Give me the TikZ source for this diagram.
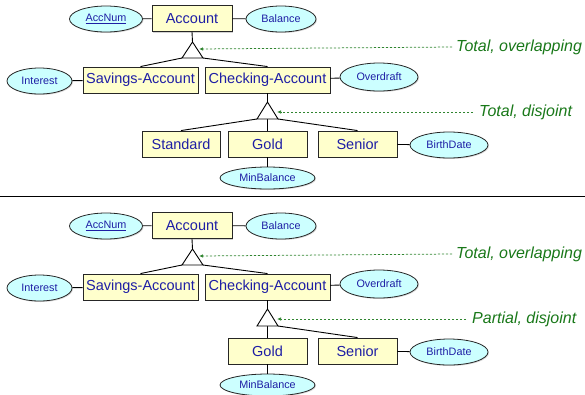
\documentclass[tikz,border=0pt]{standalone}
\usepackage{fontspec}
\setmainfont{Liberation Sans}
\usetikzlibrary{shapes.geometric,shadows,arrows.meta}

\definecolor{entfill}{RGB}{255,255,204}
\definecolor{attfill}{RGB}{204,255,255}
\definecolor{txtblue}{RGB}{30,30,165}
\definecolor{notegreen}{RGB}{25,120,25}

\tikzset{
  ent/.style={draw=black!85, line width=0.9pt, fill=entfill, text=txtblue,
    minimum height=26pt, inner sep=0pt, font=\fontsize{14.5}{16}\selectfont,
    drop shadow={shadow xshift=1.2pt, shadow yshift=-1.2pt, opacity=0.35}},
  att/.style={ellipse, draw=black!85, line width=0.8pt, fill=attfill, text=txtblue,
    minimum height=26pt, inner sep=0pt, font=\fontsize{10.8}{12}\selectfont,
    drop shadow={shadow xshift=1pt, shadow yshift=-1pt, opacity=0.3}},
  link/.style={draw=black, line width=0.9pt},
  isa/.style={draw=black, line width=0.9pt, fill=white},
  note/.style={text=notegreen, font=\fontsize{16}{18}\selectfont\itshape,
    anchor=west, inner sep=0pt},
  pointer/.style={draw=notegreen!90, line width=0.75pt, dash pattern=on 2.2pt off 1.8pt,
    -{Latex[length=4pt,width=3.5pt]}},
}

\begin{document}
\begin{tikzpicture}[x=1pt,y=-1pt]
\useasboundingbox (0,0) rectangle (585,394);

% ---------------- upper schema: total / overlapping, total / disjoint
\node[ent, minimum width=80pt]  (acc)  at (192,18.5) {Account};
\node[att, minimum width=73pt]  (an)   at (106,19)   {\underline{AccNum}};
\node[att, minimum width=70pt]  (bal)  at (281,19)   {Balance};
\node[ent, minimum width=115pt] (sav)  at (140.5,80) {Savings-Account};
\node[ent, minimum width=125pt] (chk)  at (267.5,80) {Checking-Account};
\node[att, minimum width=65pt]  (int)  at (39.5,81)  {Interest};
\node[att, minimum width=78pt, minimum height=28pt] (ovd) at (379,77) {Overdraft};
\node[ent, minimum width=78pt]  (std)  at (181,144)  {Standard};
\node[ent, minimum width=79pt]  (gold) at (267.5,144) {Gold};
\node[ent, minimum width=79pt]  (sen)  at (357.5,144) {Senior};
\node[att, minimum width=78pt]  (bd)   at (449,145)  {BirthDate};
\node[att, minimum width=95pt, minimum height=22pt] (minb) at (267.5,178) {MinBalance};

% specialisation triangles
\coordinate (ta) at (192.5,42);  \coordinate (tl) at (182,58);  \coordinate (tr) at (203,58);
\coordinate (tp) at (199,49);
\coordinate (ua) at (267.5,102); \coordinate (ul) at (257,119); \coordinate (ur) at (278,119);
\coordinate (ub) at (267.5,119); \coordinate (up) at (277,112);

\draw[link] (an) -- (acc);
\draw[link] (acc) -- (bal);
\draw[link] (int) -- (sav);
\draw[link] (chk) -- (ovd);
\draw[link] (acc.south) -- (ta);
\draw[link] (tl) -- (sav.north);
\draw[link] (tr) -- (chk.north);
\draw[link] (chk.south) -- (ua);
\draw[link] (ul) -- (std.north);
\draw[link] (ub) -- (gold.north);
\draw[link] (ur) -- (sen.north);
\draw[link] (gold) -- (minb);
\draw[link] (sen) -- (bd);
\draw[isa] (ta) -- (tl) -- (tr) -- cycle;
\draw[isa] (ua) -- (ul) -- (ur) -- cycle;

\node[note] (n1) at (456,47)  {Total, overlapping};
\node[note] (n2) at (479,112) {Total, disjoint};
\draw[pointer] ([xshift=-4pt]n1.west) -- (tp);
\draw[pointer] ([xshift=-6pt]n2.west) -- (up);

% separator
\coordinate (sl) at (0,196); \coordinate (sr) at (585,196);
\draw[line width=0.9pt] (sl) -- (sr);

% ---------------- lower schema: total / overlapping, partial / disjoint
\node[ent, minimum width=80pt]  (acc2)  at (192,225.5) {Account};
\node[att, minimum width=73pt]  (an2)   at (106,226)   {\underline{AccNum}};
\node[att, minimum width=70pt]  (bal2)  at (281,226)   {Balance};
\node[ent, minimum width=115pt] (sav2)  at (140.5,287) {Savings-Account};
\node[ent, minimum width=125pt] (chk2)  at (267.5,287) {Checking-Account};
\node[att, minimum width=65pt]  (int2)  at (39.5,288)  {Interest};
\node[att, minimum width=78pt, minimum height=28pt] (ovd2) at (379,284) {Overdraft};
\node[ent, minimum width=79pt]  (gold2) at (267.5,351) {Gold};
\node[ent, minimum width=79pt]  (sen2)  at (357.5,351) {Senior};
\node[att, minimum width=78pt]  (bd2)   at (449,352)   {BirthDate};
\node[att, minimum width=95pt, minimum height=22pt] (minb2) at (267.5,385) {MinBalance};

\coordinate (ta2) at (192.5,249); \coordinate (tl2) at (182,265); \coordinate (tr2) at (203,265);
\coordinate (tp2) at (199,256);
\coordinate (ua2) at (267.5,309); \coordinate (ul2) at (257,326); \coordinate (ur2) at (278,326);
\coordinate (ub2) at (267.5,326); \coordinate (up2) at (277,319);

\draw[link] (an2) -- (acc2);
\draw[link] (acc2) -- (bal2);
\draw[link] (int2) -- (sav2);
\draw[link] (chk2) -- (ovd2);
\draw[link] (acc2.south) -- (ta2);
\draw[link] (tl2) -- (sav2.north);
\draw[link] (tr2) -- (chk2.north);
\draw[link] (chk2.south) -- (ua2);
\draw[link] (ub2) -- (gold2.north);
\draw[link] (ur2) -- (sen2.north);
\draw[link] (gold2) -- (minb2);
\draw[link] (sen2) -- (bd2);
\draw[isa] (ta2) -- (tl2) -- (tr2) -- cycle;
\draw[isa] (ua2) -- (ul2) -- (ur2) -- cycle;

\node[note] (n3) at (456,254) {Total, overlapping};
\node[note] (n4) at (472,319) {Partial, disjoint};
\draw[pointer] ([xshift=-4pt]n3.west) -- (tp2);
\draw[pointer] ([xshift=-6pt]n4.west) -- (up2);
\end{tikzpicture}
\end{document}
